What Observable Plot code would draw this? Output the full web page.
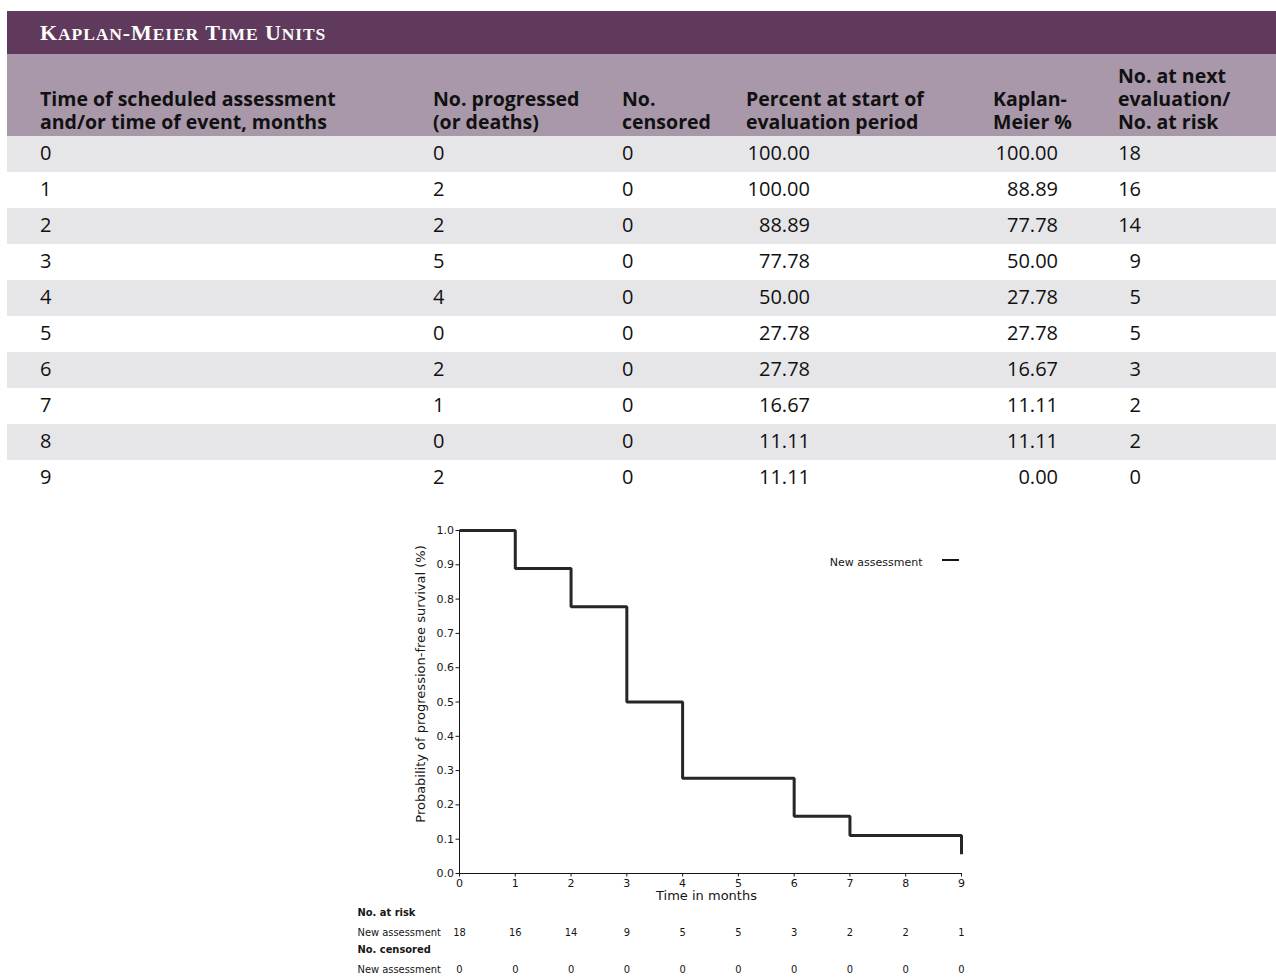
<!DOCTYPE html>
<html>
<head>
<meta charset="utf-8">
<script src="https://cdn.jsdelivr.net/npm/d3@7"></script>
<script src="https://cdn.jsdelivr.net/npm/@observablehq/plot@0.6"></script>
<style>
  html, body { margin: 0; padding: 0; background: #fff; }
  body { width: 1276px; height: 977px; position: relative; overflow: hidden; }
  #tbl { position: absolute; left: 7px; top: 11px; width: 1269px; border-collapse: collapse; table-layout: fixed; font-family: "Open Sans", sans-serif; color: #111; }
  #tbl td, #tbl th { padding: 0 0 0 33px; text-align: left; }
  #tbl .title td { background: #5f3a5c; height: 43px; color: #fff; font-family: "Liberation Serif", serif; font-weight: bold; vertical-align: middle; padding-top: 1px; box-sizing: border-box; letter-spacing: 0.9px; }
  #tbl .title .big { font-size: 22px; }
  #tbl .title .small { font-size: 17.5px; }
  #tbl .head th { background: #a898aa; height: 82px; font-weight: bold; font-size: 19.5px; line-height: 23px; vertical-align: bottom; padding-bottom: 3px; box-sizing: border-box; }
  #tbl .row td { height: 36px; font-size: 20px; line-height: 24px; vertical-align: middle; padding-bottom: 3px; box-sizing: border-box; }
  #tbl .row.alt td { background: #e6e6e9; }
  #tbl .num { display: inline-block; text-align: right; }
  #chart { position: absolute; left: 340px; top: 505px; }
  #chart svg { font-family: "DejaVu Sans", sans-serif; }
</style>
</head>
<body>
<table id="tbl"></table>
<div id="chart"></div>
<script>
// ---- Table data ----
const titleText = "Kaplan-Meier Time Units";
const headers = [
  ["Time of scheduled assessment", "and/or time of event, months"],
  ["No. progressed", "(or deaths)"],
  ["No.", "censored"],
  ["Percent at start of", "evaluation period"],
  ["Kaplan-", "Meier %"],
  ["No. at next", "evaluation/", "No. at risk"]
];
const times = [0, 1, 2, 3, 4, 5, 6, 7, 8, 9];
const progressed = [0, 2, 2, 5, 4, 0, 2, 1, 0, 2];
const censoredTbl = [0, 0, 0, 0, 0, 0, 0, 0, 0, 0];
const pctStart = ["100.00", "100.00", "88.89", "77.78", "50.00", "27.78", "27.78", "16.67", "11.11", "11.11"];
const kmPct = ["100.00", "88.89", "77.78", "50.00", "27.78", "27.78", "16.67", "11.11", "11.11", "0.00"];
const nextEval = [18, 16, 14, 9, 5, 5, 3, 2, 2, 0];

// ---- Chart data ----
const kmTime = [0, 1, 2, 3, 4, 5, 6, 7, 8, 9, 9];
const kmSurv = [1.0, 0.8889, 0.7778, 0.5, 0.2778, 0.2778, 0.1667, 0.1111, 0.1111, 0.1111, 0.056];
const riskTimes = [0, 1, 2, 3, 4, 5, 6, 7, 8, 9];
const atRisk = [18, 16, 14, 9, 5, 5, 3, 2, 2, 1];
const censoredRisk = [0, 0, 0, 0, 0, 0, 0, 0, 0, 0];
const seriesName = "New assessment";
const xTicks = [0, 1, 2, 3, 4, 5, 6, 7, 8, 9];
const yTicks = [0, 0.1, 0.2, 0.3, 0.4, 0.5, 0.6, 0.7, 0.8, 0.9, 1.0];

// ---- Build table ----
const tbl = d3.select("#tbl");
const colW = [393, 189, 124, 247, 125, 191];
const cg = tbl.append("colgroup");
colW.forEach(w => cg.append("col").style("width", w + "px"));
const titleCell = tbl.append("tr").attr("class", "title").append("td").attr("colspan", 6);
// small caps: big initial capitals, smaller uppercase for the rest
for (const ch of titleText) {
  const isCap = ch === ch.toUpperCase() && ch !== ch.toLowerCase();
  titleCell.append("span").attr("class", isCap || ch === "-" || ch === " " ? "big" : "small").text(ch.toUpperCase());
}
const hr = tbl.append("tr").attr("class", "head");
headers.forEach(h => hr.append("th").html(h.join("<br>")));
times.forEach((t, i) => {
  const tr = tbl.append("tr").attr("class", "row" + (i % 2 === 0 ? " alt" : ""));
  tr.append("td").text(t);
  tr.append("td").text(progressed[i]);
  tr.append("td").text(censoredTbl[i]);
  tr.append("td").append("span").attr("class", "num").style("width", "64px").text(pctStart[i]);
  tr.append("td").append("span").attr("class", "num").style("width", "65px").text(kmPct[i]);
  tr.append("td").append("span").attr("class", "num").style("width", "23px").text(nextEval[i]);
});

// ---- Chart ----
const idx = d3.range(kmTime.length);
const ink = "#161616";
const condensed = "DejaVu Sans Condensed, DejaVu Sans, sans-serif";
const legendLine = (index, scales, values, dims) => {
  const x2 = dims.width - dims.marginRight - 2;
  const y = dims.marginTop + 30;
  return d3.create("svg:line")
    .attr("x1", x2 - 17).attr("x2", x2).attr("y1", y).attr("y2", y)
    .attr("stroke", ink).attr("stroke-width", 2).node();
};
const chart = Plot.plot({
  width: 640,
  height: 472,
  marginLeft: 119,
  marginRight: 19,
  marginTop: 25,
  marginBottom: 104,
  style: { fontFamily: "DejaVu Sans, sans-serif", fontSize: "11px", color: ink, background: "transparent", overflow: "visible" },
  x: { domain: [0, 9], ticks: xTicks, tickFormat: d3.format("d"), tickSize: 3.5, tickPadding: 2, line: true, label: null },
  y: { domain: [0, 1], ticks: yTicks, tickFormat: d3.format(".1f"), tickSize: 3.5, tickPadding: 2, line: true, label: null },
  marks: [
    Plot.line(idx, { x: i => kmTime[i], y: i => kmSurv[i], curve: "step-after", stroke: "#262626", strokeWidth: 3, strokeLinejoin: "miter", strokeLinecap: "butt" }),
    // axis titles
    Plot.text(["Probability of progression-free survival (%)"], { frameAnchor: "left", textAnchor: "middle", dx: -39, dy: -18, rotate: -90, fontSize: 13, fill: ink }),
    Plot.text(["Time in months"], { frameAnchor: "bottom", textAnchor: "middle", dx: -4, dy: 26, fontSize: 13, fill: ink }),
    // legend
    Plot.text([seriesName], { frameAnchor: "top-right", dx: -39, dy: 28, textAnchor: "end", fontSize: 11, fill: ink }),
    legendLine,
    // risk table
    Plot.text(["No. at risk"], { frameAnchor: "bottom-left", dx: -102, dy: 42, textAnchor: "start", fontWeight: "bold", fontSize: 11, fill: ink, fontFamily: condensed }),
    Plot.text([seriesName], { frameAnchor: "bottom-left", dx: -102, dy: 62, textAnchor: "start", fontSize: 11, fill: ink, fontFamily: condensed }),
    Plot.text(riskTimes, { x: d => d, text: (d, i) => atRisk[i], frameAnchor: "bottom", dy: 62, fontSize: 11, fill: ink, fontFamily: condensed }),
    Plot.text(["No. censored"], { frameAnchor: "bottom-left", dx: -102, dy: 79, textAnchor: "start", fontWeight: "bold", fontSize: 11, fill: ink, fontFamily: condensed }),
    Plot.text([seriesName], { frameAnchor: "bottom-left", dx: -102, dy: 99, textAnchor: "start", fontSize: 11, fill: ink, fontFamily: condensed }),
    Plot.text(riskTimes, { x: d => d, text: (d, i) => censoredRisk[i], frameAnchor: "bottom", dy: 99, fontSize: 11, fill: ink, fontFamily: condensed })
  ]
});
document.getElementById("chart").appendChild(chart);
</script>
</body>
</html>
